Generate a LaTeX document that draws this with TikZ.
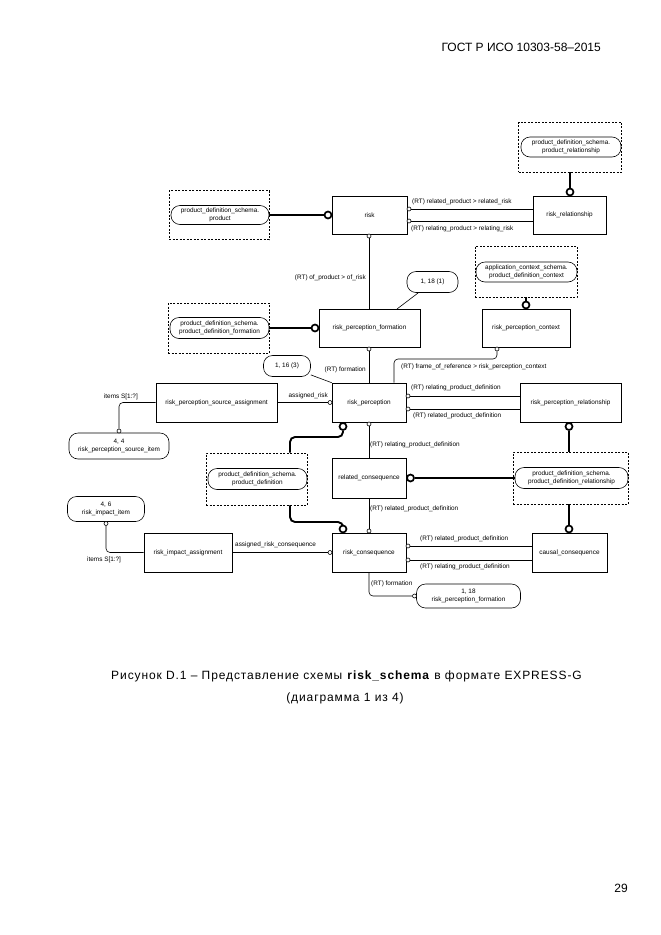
\documentclass[tikz,border=0pt]{standalone}
\usepackage{fontspec}
\setmainfont{Liberation Sans}
\newfontfamily\capfont[LetterSpace=7.5]{Liberation Sans}
\begin{document}
\begin{tikzpicture}[x=1pt,y=-1pt,
  lbl/.style={font=\fontsize{6.4}{7.4}\selectfont, inner sep=0pt},
  ent/.style={draw, line width=0.6pt, inner sep=0pt, font=\fontsize{6.4}{7.4}\selectfont},
  tag/.style={draw, line width=0.6pt, rounded corners=9pt, inner sep=0pt, align=center, font=\fontsize{6.4}{7.6}\selectfont},
  dbox/.style={draw, line width=0.6pt, dash pattern=on 2pt off 1.5pt, inner sep=0pt},
  thn/.style={line width=0.6pt},
  thk/.style={line width=1.9pt},
  oc/.style={circle, draw, line width=0.6pt, fill=white, inner sep=0pt, minimum size=4pt},
  bc/.style={circle, draw, line width=1.7pt, fill=white, inner sep=0pt, minimum size=7pt},
  big/.style={font=\fontsize{12}{14}\selectfont, inner sep=0pt},
  capt/.style={font=\capfont\fontsize{12}{14}\selectfont, inner sep=0pt}
]
\useasboundingbox (0,0) rectangle (661,935);

% header, caption, page number
\node[big, anchor=east] (hdr) at (601,47) {ГОСТ Р ИСО 10303-58–2015};
\node[capt] (cap1) at (346.5,676) {Рисунок D.1 – Представление схемы \textbf{risk\_schema} в формате EXPRESS-G};
\node[capt] (cap2) at (345,698) {(диаграмма 1 из 4)};
\node[big] (pg) at (621,888) {29};

% dashed boxes with schema references
\node[dbox, minimum width=100pt, minimum height=49pt] (d1) at (219,215) {};
\node[tag, minimum width=98pt, minimum height=19pt] (t1) at (220,215) {product\_definition\_schema.\\product};
\node[dbox, minimum width=103pt, minimum height=50pt] (d2) at (570,147) {};
\node[tag, minimum width=100pt, minimum height=20pt] (t2) at (571,147) {product\_definition\_schema.\\product\_relationship};
\node[dbox, minimum width=101pt, minimum height=50pt] (d3) at (218.5,328) {};
\node[tag, minimum width=99pt, minimum height=21pt] (t3) at (219.5,328) {product\_definition\_schema.\\product\_definition\_formation};
\node[dbox, minimum width=102pt, minimum height=51pt] (d4) at (526,271.5) {};
\node[tag, minimum width=101pt, minimum height=20pt] (t4) at (526.5,272) {application\_context\_schema.\\product\_definition\_context};
\node[dbox, minimum width=101pt, minimum height=52pt] (d5) at (256.5,479) {};
\node[tag, minimum width=99pt, minimum height=21pt] (t5) at (257.5,479) {product\_definition\_schema.\\product\_definition};
\node[dbox, minimum width=115pt, minimum height=52pt] (d6) at (570.5,478) {};
\node[tag, minimum width=113pt, minimum height=21pt] (t6) at (571.5,478) {product\_definition\_schema.\\product\_definition\_relationship};

% entities
\node[ent, minimum width=75pt, minimum height=38pt] (risk) at (369.5,215) {risk};
\node[ent, minimum width=73pt, minimum height=38pt] (rrel) at (569.5,215) {risk\_relationship};
\node[ent, minimum width=101pt, minimum height=38pt] (rpf) at (369.5,328) {risk\_perception\_formation};
\node[ent, minimum width=88pt, minimum height=38pt] (rpc) at (526,328) {risk\_perception\_context};
\node[ent, minimum width=121pt, minimum height=39pt] (rpsa) at (216.5,402.5) {risk\_perception\_source\_assignment};
\node[ent, minimum width=74pt, minimum height=39pt] (rp) at (369,402.5) {risk\_perception};
\node[ent, minimum width=101pt, minimum height=39pt] (rpr) at (570.5,402.5) {risk\_perception\_relationship};
\node[ent, minimum width=74pt, minimum height=40pt] (rcons) at (369,478) {related\_consequence};
\node[ent, minimum width=74pt, minimum height=39pt] (rc) at (369,552.5) {risk\_consequence};
\node[ent, minimum width=75pt, minimum height=39pt] (cc) at (569.5,552.5) {causal\_consequence};
\node[ent, minimum width=88pt, minimum height=39pt] (ria) at (188,552.5) {risk\_impact\_assignment};

% page references
\node[tag, minimum width=51pt, minimum height=21pt] (n118) at (432.5,282) {1, 18 (1)};
\node[tag, minimum width=47pt, minimum height=21pt] (n116) at (287,366) {1, 16 (3)};
\node[tag, minimum width=100pt, minimum height=26pt] (n44) at (119,446) {4, 4\\risk\_perception\_source\_item};
\node[tag, minimum width=77pt, minimum height=25pt] (n46) at (106,509) {4, 6\\risk\_impact\_item};
\node[tag, minimum width=104pt, minimum height=24pt] (n118b) at (468.5,596) {1, 18\\risk\_perception\_formation};

% small circles
\node[oc] (ocA) at (409,209) {};
\node[oc] (ocB) at (409,221) {};
\node[oc] (ocC) at (369,236) {};
\node[oc] (ocD) at (369,349) {};
\node[oc] (ocE) at (497,349) {};
\node[oc] (ocF) at (330,402.5) {};
\node[oc] (ocG) at (408,396) {};
\node[oc] (ocH) at (408,409) {};
\node[oc] (ocI) at (119,431) {};
\node[oc] (ocJ) at (369,424) {};
\node[oc] (ocK) at (369,531) {};
\node[oc] (ocL) at (106,523.5) {};
\node[oc] (ocM) at (330,552.5) {};
\node[oc] (ocN) at (408,546) {};
\node[oc] (ocO) at (408,560) {};
\node[oc] (ocP) at (414.5,596) {};

% coordinates for bends
\coordinate (k1) at (290,437);
\coordinate (k2) at (290,522);
\coordinate (k3) at (394,359);
\coordinate (k4) at (397,309);

% thick connectors (to other schemas)
\draw[thk] (t1) -- (323.5,215);
\draw[thk] (d2.south) -- (570,188);
\draw[thk] (t3) -- (310.5,328);
\draw[thk] (d4.south) -- (526,301);
\draw[thk, rounded corners=5pt] (343,431) |- (k1) -- (d5.north -| k1);
\draw[thk] (415,478) -- (t6);
\draw[thk] (569,431) -- (569,452);
\draw[thk, rounded corners=5pt] (d5.south -| k2) -- (k2) -| (343,524.5);
\draw[thk] (569,504) -- (569,524.5);
\node[bc] (bcA) at (328,215) {};
\node[bc] (bcB) at (570,192) {};
\node[bc] (bcC) at (315,328) {};
\node[bc] (bcD) at (526,305) {};
\node[bc] (bcE) at (343,426.5) {};
\node[bc] (bcF) at (410.5,478) {};
\node[bc] (bcG) at (569,426.5) {};
\node[bc] (bcH) at (343,529) {};
\node[bc] (bcI) at (569,529) {};

% thin connectors (attributes)
\draw[thn] (ocA) -- (ocA -| rrel.west);
\draw[thn] (ocB) -- (ocB -| rrel.west);
\draw[thn] (ocC) -- (ocC |- rpf.north);
\draw[thn] (n118) -- (k4);
\draw[thn] (ocD) -- (ocD |- rp.north);
\draw[thn, rounded corners=4pt] (ocE) |- (k3) -- (k3 |- rp.north);
\draw[thn] (n116) -- (rp.north west);
\draw[thn] (rpsa.east) -- (ocF);
\draw[thn] (ocG) -- (ocG -| rpr.west);
\draw[thn] (ocH) -- (ocH -| rpr.west);
\draw[thn, rounded corners=4pt] (rpsa.west) -| (ocI);
\draw[thn] (ocJ) -- (ocJ |- rcons.north);
\draw[thn] (rcons.south) -- (ocK);
\draw[thn, rounded corners=4pt] (ria.west) -| (ocL);
\draw[thn] (ria.east) -- (ocM);
\draw[thn] (ocN) -- (ocN -| cc.west);
\draw[thn] (ocO) -- (ocO -| cc.west);
\draw[thn, rounded corners=4pt] (rc.south) |- (ocP);

% labels
\node[lbl, anchor=west] (l1) at (412,202) {(RT) related\_product > related\_risk};
\node[lbl, anchor=west] (l2) at (411,229) {(RT) relating\_product > relating\_risk};
\node[lbl, anchor=east] (l3) at (366,278) {(RT) of\_product > of\_risk};
\node[lbl, anchor=east] (l4) at (366,370) {(RT) formation};
\node[lbl, anchor=west] (l5) at (401,367) {(RT) frame\_of\_reference > risk\_perception\_context};
\node[lbl, anchor=west] (l6) at (411,388) {(RT) relating\_product\_definition};
\node[lbl, anchor=west] (l7) at (413,416) {(RT) related\_product\_definition};
\node[lbl, anchor=east] (l8) at (328,396) {assigned\_risk};
\node[lbl, anchor=east] (l9) at (138,397) {items S[1:?]};
\node[lbl, anchor=west] (l10) at (370,445) {(RT) relating\_product\_definition};
\node[lbl, anchor=west] (l11) at (370,509) {(RT) related\_product\_definition};
\node[lbl, anchor=west] (l12) at (235,545) {assigned\_risk\_consequence};
\node[lbl, anchor=west] (l13) at (87,560) {items S[1:?]};
\node[lbl, anchor=west] (l14) at (420,539) {(RT) related\_product\_definition};
\node[lbl, anchor=west] (l15) at (420,567) {(RT) relating\_product\_definition};
\node[lbl, anchor=west] (l16) at (371,584) {(RT) formation};
\end{tikzpicture}
\end{document}
